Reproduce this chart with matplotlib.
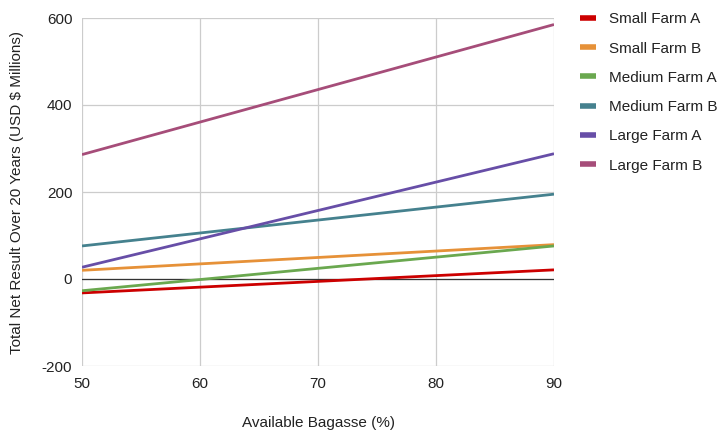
import matplotlib
matplotlib.use("Agg")
import matplotlib.pyplot as plt

plt.rcParams['font.family'] = ['Liberation Sans', 'DejaVu Sans']
plt.rcParams['axes.unicode_minus'] = False

bagasse = [50, 90]
small_a = [-32, 21]
small_b = [20, 79]
medium_a = [-27, 76]
medium_b = [76, 195]
large_a = [27, 288]
large_b = [286, 585]

series_names = ["Small Farm A", "Small Farm B", "Medium Farm A",
                "Medium Farm B", "Large Farm A", "Large Farm B"]
series_values = [small_a, small_b, medium_a, medium_b, large_a, large_b]
colors = ["#cc0000", "#e69138", "#6aa84f", "#45818e", "#674ea7", "#a64d79"]

x_ticks = [50, 60, 70, 80, 90]
y_ticks = [-200, 0, 200, 400, 600]

fig = plt.figure(figsize=(7.2, 4.32), dpi=100)
ax = fig.add_axes([82/720, 1-366/432, (554-82)/720, (366-18)/432])

for name, vals, c in zip(series_names, series_values, colors):
    ax.plot(bagasse, vals, color=c, lw=2.0, label=name, solid_capstyle='butt', zorder=3)

ax.axhline(0, color="#333333", lw=0.9, zorder=2)

ax.set_xlim(50, 90)
ax.set_ylim(-200, 600)
ax.set_xticks(x_ticks)
ax.set_yticks(y_ticks)
ax.grid(True, color="#cccccc", lw=0.9, zorder=0)
ax.set_axisbelow(True)
for s in ax.spines.values():
    s.set_visible(False)
ax.tick_params(length=0, labelsize=11, colors="#222222")
ax.tick_params(axis='y', pad=7)
ax.tick_params(axis='x', pad=8)

ax.set_xlabel("Available Bagasse (%)", fontsize=11, color="#222222", labelpad=18)
ax.set_ylabel("Total Net Result Over 20 Years (USD $ Millions)", fontsize=11,
              color="#222222", labelpad=13)

leg = ax.legend(loc='upper left', bbox_to_anchor=(1.025, 1.056), frameon=False,
                fontsize=11, handlelength=1.1, handleheight=0.7, labelspacing=1.0,
                handletextpad=0.8)
for line in leg.get_lines():
    line.set_linewidth(4)
for t in leg.get_texts():
    t.set_color("#222222")

fig.savefig("out.png", dpi=100)
